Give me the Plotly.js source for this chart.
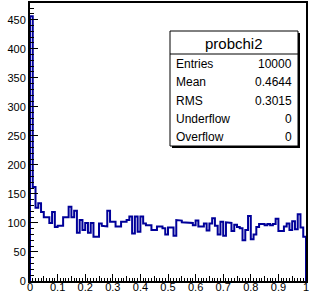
<!DOCTYPE html>
<html><head><meta charset="utf-8">
<script src="https://cdn.plot.ly/plotly-3.0.1.min.js"></script>
<style>html,body{margin:0;padding:0;background:#fff;overflow:hidden}#chart{width:309px;height:293px}</style>
</head><body><div id="chart"></div>
<script>
// ---- data ----
const histName = 'probchi2';
const binLow = 0;
const binHigh = 1;
const counts = [
  456, 162, 126, 134, 119, 110, 110, 100, 119, 93,
  95, 95, 110, 110, 128, 110, 121, 83, 105, 88,
  100, 83, 100, 76, 76, 99, 95, 94, 121, 102,
  102, 94, 94, 102, 102, 105, 111, 82, 111, 85,
  111, 99, 96, 96, 88, 88, 94, 94, 91, 80,
  92, 92, 78, 105, 104, 101, 101, 100, 100, 96,
  104, 94, 94, 99, 87, 99, 108, 95, 80, 102,
  78, 101, 100, 86, 97, 93, 91, 70, 88, 112,
  72, 80, 93, 98, 98, 96, 98, 96, 98, 107,
  86, 86, 94, 99, 88, 103, 89, 115, 92, 76
];
const statLabels = ['Entries', 'Mean', 'RMS', 'Underflow', 'Overflow'];
const statValues = ['10000', '0.4644', '0.3015', '0', '0'];
const yTickLabels = ['0','50','100','150','200','250','300','350','400','450'];
const xTickLabels = ['0','0.1','0.2','0.3','0.4','0.5','0.6','0.7','0.8','0.9','1'];

// ---- build step outline from bins ----
const nb = counts.length;
const bw = (binHigh - binLow) / nb;
const sx = [binLow], sy = [0];
for (let i = 0; i < nb; i++) {
  const e0 = binLow + i * bw, e1 = binLow + (i + 1) * bw;
  sx.push(e0, e1); sy.push(counts[i], counts[i]);
}
sx.push(binHigh); sy.push(0);
const yMax = Math.max(...counts) * 1.05;

// ---- geometry helpers (pixel -> paper) ----
const W = 309, H = 293, mL = 30, mR = 3, mT = 3, mB = 12;
const pw = W - mL - mR, ph = H - mT - mB;
const px = x => (x - mL) / pw;
const py = y => (H - mB - y) / ph;

const FONT = 'Liberation Sans, Arial, Helvetica, sans-serif';
const lineCol = '#000099';

const traces = [
  {x: sx, y: sy, type: 'scatter', mode: 'lines',
   line: {color: lineCol, width: 2, shape: 'linear'},
   hoverinfo: 'skip', showlegend: false, cliponaxis: true},
  {x: sx, y: sy, xaxis: 'x2', type: 'scatter', mode: 'lines',
   line: {color: 'rgba(0,0,0,0)', width: 0}, hoverinfo: 'skip', showlegend: false}
];

const tickVals = xTickLabels.map(Number);
const yVals = yTickLabels.map(Number);

// stats box
const bx0 = 170, bx1 = 298, by0 = 31, by1 = 146, sep = 54, sh = 2;
const shapes = [
  {type: 'rect', xref: 'paper', yref: 'paper', x0: px(bx0 + sh), x1: px(bx1 + sh), y0: py(by0 + sh), y1: py(by1 + sh),
   fillcolor: '#000', line: {width: 0}, layer: 'above'},
  {type: 'rect', xref: 'paper', yref: 'paper', x0: px(bx0), x1: px(bx1), y0: py(by0), y1: py(by1),
   fillcolor: '#fff', line: {color: '#000', width: 1}, layer: 'above'},
  {type: 'line', xref: 'paper', yref: 'paper', x0: px(bx0), x1: px(bx1), y0: py(sep), y1: py(sep),
   line: {color: '#000', width: 1}, layer: 'above'}
];
const annotations = [
  {xref: 'paper', yref: 'paper', x: px((bx0 + bx1) / 2), y: py(43), text: histName, showarrow: false,
   xanchor: 'center', yanchor: 'middle', font: {family: FONT, size: 15, color: '#000'}}
];
statLabels.forEach((lab, i) => {
  const yy = py(64 + 18.3 * i);
  annotations.push({xref: 'paper', yref: 'paper', x: px(bx0 + 4), y: yy, text: lab, showarrow: false,
    xanchor: 'left', yanchor: 'middle', font: {family: FONT, size: 12, color: '#000'}});
  annotations.push({xref: 'paper', yref: 'paper', x: px(bx1 - 4), y: yy, text: statValues[i], showarrow: false,
    xanchor: 'right', yanchor: 'middle', font: {family: FONT, size: 12, color: '#000'}});
});

const layout = {
  width: W, height: H,
  margin: {l: mL, r: mR, t: mT, b: mB, pad: 0},
  paper_bgcolor: '#fff', plot_bgcolor: '#fff',
  showlegend: false,
  xaxis: {range: [binLow, binHigh], tickmode: 'array', tickvals: tickVals, ticktext: xTickLabels,
    ticks: 'inside', ticklen: 7, tickwidth: 1, tickcolor: '#000',
    minor: {tickmode: 'linear', tick0: 0, dtick: 0.01, ticks: 'inside', ticklen: 3, tickcolor: '#000', tickwidth: 1, showgrid: false},
    showline: true, linecolor: '#000', linewidth: 2, mirror: true,
    showgrid: false, zeroline: false, fixedrange: true,
    ticklabeloverflow: 'allow',
    tickfont: {family: FONT, size: 11, color: '#000'}, ticklabelstandoff: -5},
  xaxis2: {range: [binLow, binHigh], overlaying: 'x', anchor: 'y', side: 'bottom',
    tickmode: 'linear', tick0: 0, dtick: 0.05, ticks: 'inside', ticklen: 5, tickwidth: 1, tickcolor: '#000',
    showticklabels: false, showgrid: false, zeroline: false, showline: false, fixedrange: true},
  yaxis: {range: [0, yMax], tickmode: 'array', tickvals: yVals, ticktext: yTickLabels,
    ticks: 'inside', ticklen: 8, tickwidth: 1, tickcolor: '#000',
    minor: {tickmode: 'linear', tick0: 0, dtick: 10, ticks: 'inside', ticklen: 4, tickcolor: '#000', tickwidth: 1, showgrid: false},
    showline: true, linecolor: '#000', linewidth: 2, mirror: true,
    showgrid: false, zeroline: false, fixedrange: true,
    ticklabeloverflow: 'allow',
    tickfont: {family: FONT, size: 11, color: '#000'}},
  shapes: shapes,
  annotations: annotations
};

Plotly.newPlot('chart', traces, layout, {displayModeBar: false, staticPlot: true});
</script>
</body></html>
